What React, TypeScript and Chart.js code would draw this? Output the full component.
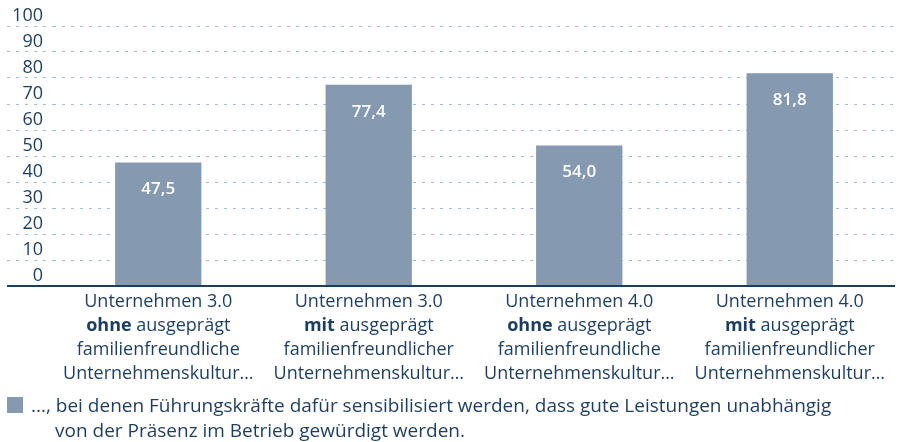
import React, { useEffect, useRef } from "react";
import { Chart, registerables } from "chart.js";

Chart.register(...registerables);

// ---- Data ----
const categoryLine1 = ["Unternehmen 3.0", "Unternehmen 3.0", "Unternehmen 4.0", "Unternehmen 4.0"];
const categoryEmphasis = ["ohne", "mit", "ohne", "mit"];
const categoryLine2Rest = [" ausgeprägt", " ausgeprägt", " ausgeprägt", " ausgeprägt"];
const categoryLine3 = ["familienfreundliche", "familienfreundlicher", "familienfreundliche", "familienfreundlicher"];
const categoryLine4 = ["Unternehmenskultur…", "Unternehmenskultur…", "Unternehmenskultur…", "Unternehmenskultur…"];
const values = [47.5, 77.4, 54.0, 81.8];
const yTicks = [0, 10, 20, 30, 40, 50, 60, 70, 80, 90, 100];
const legendLines = [
  "..., bei denen Führungskräfte dafür sensibilisiert werden, dass gute Leistungen unabhängig",
  "von der Präsenz im Betrieb gewürdigt werden.",
];

// ---- Styles ----
const FONT = "'Open Sans', 'Noto Sans', sans-serif";
const NAVY = "#1c3d5e";
const GRID = "#a6bacd";
const BAR = "#8599b1";

const labelsPlugin = {
  id: "customLabels",
  afterDatasetsDraw(chart: any) {
    const ctx = chart.ctx;
    const meta = chart.getDatasetMeta(0);
    ctx.save();
    ctx.fillStyle = "#ffffff";
    ctx.font = `600 17px ${FONT}`;
    ctx.textAlign = "center";
    ctx.textBaseline = "middle";
    meta.data.forEach((bar: any, i: number) => {
      ctx.fillText(values[i].toFixed(1).replace(".", ","), bar.x, bar.y + 27);
    });
    ctx.restore();
  },
  afterDraw(chart: any) {
    const ctx = chart.ctx;
    const xs = chart.scales.x;
    const ys = chart.scales.y;
    const { right, bottom } = chart.chartArea;
    // baseline (zero line) extended across the y-axis area
    ctx.save();
    ctx.strokeStyle = NAVY;
    ctx.lineWidth = 2;
    const y0 = ys.getPixelForValue(0);
    ctx.beginPath();
    ctx.moveTo(ys.left, y0);
    ctx.lineTo(right, y0);
    ctx.stroke();

    const reg = `18px ${FONT}`;
    const bold = `bold 18px ${FONT}`;
    ctx.fillStyle = NAVY;
    ctx.textBaseline = "alphabetic";
    categoryLine1.forEach((_, i) => {
      const cx = xs.getPixelForTick(i);
      ctx.font = reg;
      ctx.textAlign = "center";
      ctx.fillText(categoryLine1[i], cx, bottom + 21);
      ctx.font = bold;
      const wb = ctx.measureText(categoryEmphasis[i]).width;
      ctx.font = reg;
      const wr = ctx.measureText(categoryLine2Rest[i]).width;
      const sx = cx - (wb + wr) / 2;
      ctx.textAlign = "left";
      ctx.font = bold;
      ctx.fillText(categoryEmphasis[i], sx, bottom + 45);
      ctx.font = reg;
      ctx.fillText(categoryLine2Rest[i], sx + wb, bottom + 45);
      ctx.textAlign = "center";
      ctx.fillText(categoryLine3[i], cx, bottom + 69);
      ctx.fillText(categoryLine4[i], cx, bottom + 93);
    });
    // legend
    ctx.fillStyle = BAR;
    ctx.fillRect(7, 397, 16, 16);
    ctx.fillStyle = NAVY;
    ctx.font = `19px ${FONT}`;
    ctx.textAlign = "left";
    ctx.fillText(legendLines[0], 31, 412);
    ctx.fillText(legendLines[1], 55, 437);
    ctx.restore();
  },
};

export default function App() {
  const canvasRef = useRef<HTMLCanvasElement | null>(null);

  useEffect(() => {
    if (!canvasRef.current) return;
    const chart = new Chart(canvasRef.current, {
      type: "bar",
      data: {
        labels: categoryLine1.map((l, i) => [l, categoryEmphasis[i] + categoryLine2Rest[i], categoryLine3[i], categoryLine4[i]]),
        datasets: [
          {
            label: legendLines.join(" "),
            data: values,
            backgroundColor: BAR,
            borderWidth: 0,
            categoryPercentage: 1,
            barPercentage: 0.41,
          },
        ],
      },
      options: {
        animation: false,
        responsive: false,
        layout: { padding: { left: 7, right: 5, top: 26, bottom: 156 } },
        plugins: { legend: { display: false }, tooltip: { enabled: false } },
        scales: {
          x: {
            afterFit: (s: any) => {
              s.height = 0;
            },
            ticks: { display: false },
            grid: { display: false },
            border: { display: false },
          },
          y: {
            min: 0,
            max: 100,
            afterFit: (s: any) => {
              s.width = 46;
            },
            afterBuildTicks: (s: any) => {
              s.ticks = yTicks.map((v) => ({ value: v }));
            },
            ticks: {
              color: NAVY,
              font: { family: FONT, size: 18 },
              padding: -36,
              labelOffset: -10,
            },
            grid: {
              color: GRID,
              lineWidth: 1,
              drawTicks: true,
              tickLength: 46,
              tickColor: GRID,
              tickBorderDash: [3, 6],
            },
            border: { display: false, dash: [3, 6] },
          },
        },
      },
      plugins: [labelsPlugin],
    });
    return () => chart.destroy();
  }, []);

  return (
    <div style={{ position: "absolute", left: 0, top: 0, width: 900, height: 442, background: "#fff" }}>
      <canvas ref={canvasRef} width={900} height={442} style={{ display: "block" }} />
    </div>
  );
}
